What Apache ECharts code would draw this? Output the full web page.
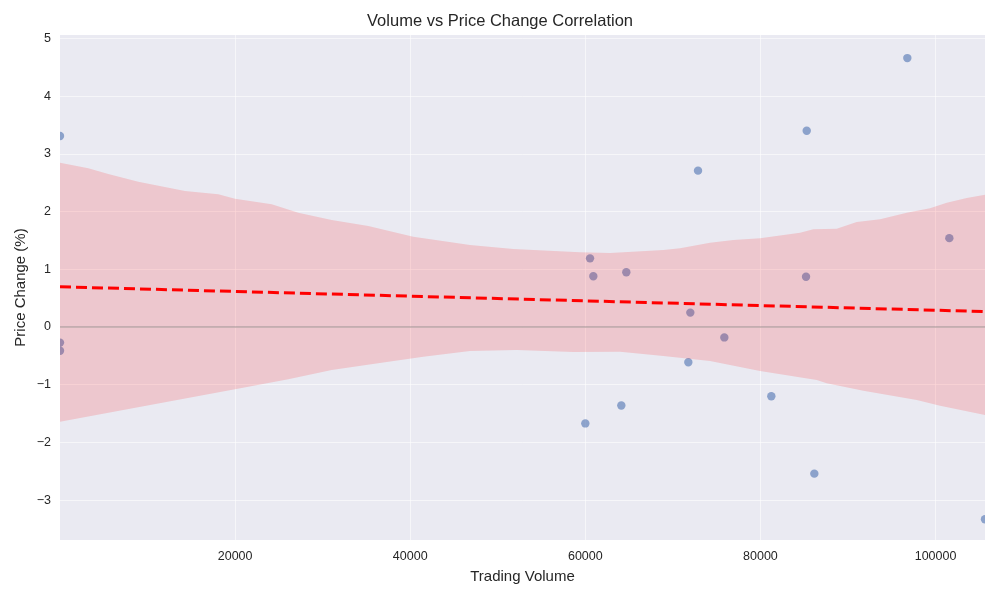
<!DOCTYPE html>
<html>
<head>
<meta charset="utf-8">
<script src="https://cdn.jsdelivr.net/npm/echarts@6/dist/echarts.min.js"></script>
<style>
html,body{margin:0;padding:0;background:#fff;}
#chart{width:1000px;height:600px;}
</style>
</head>
<body>
<div id="chart"></div>
<script>
// Scatter data
const volume = [0, 0, 0, 60537, 60914, 64683, 71993, 75877, 71765, 60000, 64112, 81245, 72873, 85288, 96779, 85210, 101576, 86157, 105650];
const priceChange = [3.31, -0.27, -0.41, 1.19, 0.88, 0.95, 0.25, -0.18, -0.61, -1.67, -1.36, -1.20, 2.71, 3.40, 4.66, 0.87, 1.54, -2.54, -3.33];

// Confidence band (bootstrap)
const ciUpperVolume = [0, 3232, 5517, 8943, 14278, 18081, 19989, 24181, 27219, 31034, 35214, 37122, 40354, 46830, 51776, 59395, 62821, 68910, 70816, 74243, 76904, 79954, 84523, 86042, 88714, 91000, 93661, 96711, 99372, 101280, 103564, 105650];
const ciUpper = [2.847, 2.750, 2.651, 2.518, 2.357, 2.299, 2.223, 2.126, 1.981, 1.854, 1.750, 1.681, 1.565, 1.421, 1.352, 1.294, 1.282, 1.334, 1.364, 1.461, 1.508, 1.537, 1.634, 1.693, 1.703, 1.819, 1.866, 1.981, 2.057, 2.154, 2.235, 2.292];
const ciLowerVolume = [0, 19989, 26077, 31034, 37122, 41496, 46830, 52164, 58629, 63964, 68910, 74243, 79954, 86431, 87573, 91753, 97853, 100514, 105650];
const ciLower = [-1.641, -1.080, -0.906, -0.745, -0.612, -0.515, -0.416, -0.399, -0.433, -0.428, -0.503, -0.589, -0.762, -0.918, -0.976, -1.104, -1.265, -1.364, -1.525];

// Axis ranges
const xRange = [0, 105650];
const yRange = [-3.69, 5.06];

// Least-squares fit of the scatter data
const n = volume.length;
const mx = volume.reduce((a, b) => a + b, 0) / n;
const my = priceChange.reduce((a, b) => a + b, 0) / n;
let sxy = 0, sxx = 0;
for (let i = 0; i < n; i++) { sxy += (volume[i] - mx) * (priceChange[i] - my); sxx += (volume[i] - mx) ** 2; }
const slope = sxy / sxx;
const intercept = my - slope * mx;
const xMin = Math.min(...volume), xMax = Math.max(...volume);
const fitLine = [[xMin, intercept + slope * xMin], [xMax, intercept + slope * xMax]];

const FONT = 'Liberation Sans, Arial, sans-serif';
const TEXT = '#262626';

const chart = echarts.init(document.getElementById('chart'), null, {renderer: 'canvas'});
chart.setOption({
  animation: false,
  backgroundColor: '#ffffff',
  title: {
    text: 'Volume vs Price Change Correlation',
    left: 'center', top: 8,
    textStyle: {fontFamily: FONT, fontSize: 16.5, fontWeight: 'normal', color: TEXT}
  },
  grid: {left: 60, right: 15, top: 35, bottom: 60, show: true, backgroundColor: '#EAEAF2', borderWidth: 0, containLabel: false},
  xAxis: {
    type: 'value', min: xRange[0], max: xRange[1],
    minInterval: 20000, maxInterval: 20000,
    name: 'Trading Volume', nameLocation: 'middle', nameGap: 29, nameMoveOverlap: false,
    nameTextStyle: {fontFamily: FONT, fontSize: 15, color: TEXT},
    axisLine: {show: false}, axisTick: {show: false},
    axisLabel: {fontFamily: FONT, fontSize: 12.5, color: TEXT, margin: 10, showMinLabel: false, showMaxLabel: false,
      formatter: v => String(Math.round(v))},
    splitLine: {show: true, showMinLine: false, showMaxLine: false, lineStyle: {color: 'rgba(255,255,255,0.55)', width: 1}}
  },
  yAxis: {
    type: 'value', min: yRange[0], max: yRange[1],
    minInterval: 1, maxInterval: 1,
    name: 'Price Change (%)', nameLocation: 'middle', nameGap: 32, nameRotate: 90, nameMoveOverlap: false,
    nameTextStyle: {fontFamily: FONT, fontSize: 15, color: TEXT},
    axisLine: {show: false}, axisTick: {show: false},
    axisLabel: {fontFamily: FONT, fontSize: 12.5, color: TEXT, margin: 9, showMinLabel: false, showMaxLabel: false,
      formatter: v => String(v).replace('-', '\u2212')},
    splitLine: {show: true, showMinLine: false, showMaxLine: false, lineStyle: {color: 'rgba(255,255,255,0.55)', width: 1}}
  },
  series: [
    {
      type: 'custom', name: 'points', z: 1, clip: true, silent: true,
      data: volume.map((v, i) => [v, priceChange[i]]),
      renderItem: (params, api) => {
        const p = api.coord([api.value(0), api.value(1)]);
        return {type: 'circle', shape: {cx: p[0], cy: p[1], r: 4.2}, style: {fill: 'rgba(76,114,176,0.6)'}};
      }
    },
    {
      type: 'custom', name: 'ci', z: 2, clip: true, silent: true,
      data: [[0, 0]],
      renderItem: (params, api) => {
        const pts = [];
        for (let i = 0; i < ciUpperVolume.length; i++) pts.push(api.coord([ciUpperVolume[i], ciUpper[i]]));
        for (let i = ciLowerVolume.length - 1; i >= 0; i--) pts.push(api.coord([ciLowerVolume[i], ciLower[i]]));
        return {type: 'polygon', shape: {points: pts}, style: {fill: 'rgba(255,0,0,0.15)'}};
      }
    },
    {
      type: 'line', name: 'fit', z: 3, silent: true,
      data: fitLine, showSymbol: false, symbol: 'none',
      lineStyle: {color: '#ff0000', width: 3, type: [11, 5]},
      markLine: {
        silent: true, symbol: 'none', label: {show: false},
        lineStyle: {color: 'rgba(128,128,128,0.5)', width: 1.6, type: 'solid'},
        data: [{yAxis: 0}]
      }
    }
  ]
});
</script>
</body>
</html>
